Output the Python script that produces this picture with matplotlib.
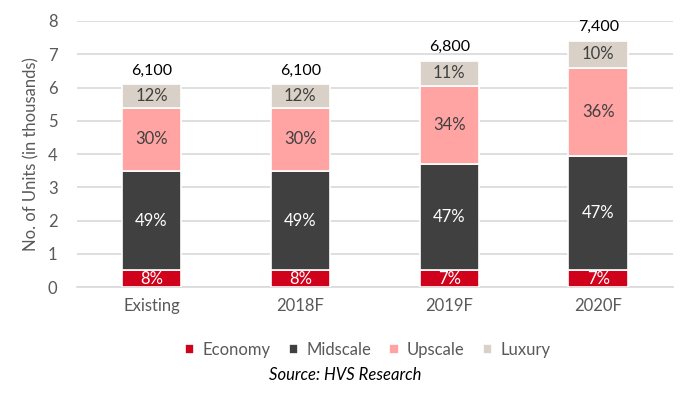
import matplotlib.pyplot as plt
import numpy as np

plt.rcParams['font.family'] = ['Lato', 'DejaVu Sans']

# units in thousands
years = ["Existing", "2018F", "2019F", "2020F"]
economy = [0.50, 0.50, 0.50, 0.50]
midscale = [3.00, 3.00, 3.20, 3.45]
upscale = [1.88, 1.88, 2.35, 2.65]
luxury = [0.72, 0.72, 0.75, 0.80]
totals = ["6,100", "6,100", "6,800", "7,400"]

pct_economy = ["8%", "8%", "7%", "7%"]
pct_midscale = ["49%", "49%", "47%", "47%"]
pct_upscale = ["30%", "30%", "34%", "36%"]
pct_luxury = ["12%", "12%", "11%", "10%"]

series = [
    ("Economy", economy, pct_economy, "#D0021B", "white"),
    ("Midscale", midscale, pct_midscale, "#404040", "white"),
    ("Upscale", upscale, pct_upscale, "#FFA3A3", "#404040"),
    ("Luxury", luxury, pct_luxury, "#D9D1C7", "#404040"),
]

fig = plt.figure(figsize=(7, 3.96), dpi=100)
ax = fig.add_axes([0.11, 0.275, 0.851, 0.672])

x = np.arange(len(years))
bottom = np.zeros(len(years))
for name, vals, pcts, color, tcolor in series:
    bars = ax.bar(x, vals, 0.4, bottom=bottom, color=color, label=name,
                  edgecolor="white", linewidth=1.2, zorder=3)
    for b, p in zip(bars, pcts):
        ax.text(b.get_x() + b.get_width() / 2, b.get_y() + b.get_height() / 2,
                p, ha="center", va="center", color=tcolor, fontsize=12, zorder=4)
    bottom += np.array(vals)

for xi, top, t in zip(x, bottom, totals):
    ax.text(xi, top + 0.2, t, ha="center", va="bottom", fontsize=11.5, color="black")

ax.set_xlim(-0.5, 3.5)
ax.set_ylim(0, 8)
ax.set_yticks(range(0, 9))
ax.set_xticks(x)
ax.set_xticklabels(years)
ax.yaxis.grid(True, color="#D9D9D9", linewidth=1.2, zorder=0)
ax.set_axisbelow(True)
for s in ["top", "right", "left"]:
    ax.spines[s].set_visible(False)
ax.spines["bottom"].set_color("#D9D9D9")
ax.spines["bottom"].set_linewidth(1.2)
ax.tick_params(axis="both", length=0, labelsize=12, labelcolor="#595959")
ax.tick_params(axis="y", pad=14)
ax.tick_params(axis="x", pad=8)
ax.set_ylabel("No. of Units (in thousands)", fontsize=12, color="#595959", labelpad=6)

ax.legend(loc="upper center", bbox_to_anchor=(0.488, -0.15), ncol=4, frameon=False,
          fontsize=12, handlelength=0.55, handleheight=0.55, columnspacing=1.1,
          handletextpad=0.5, labelcolor="#595959")

fig.text(0.493, 0.04, "Source: HVS Research", ha="center", fontsize=12,
         style="italic", color="black")

plt.savefig("out.png", dpi=100)
